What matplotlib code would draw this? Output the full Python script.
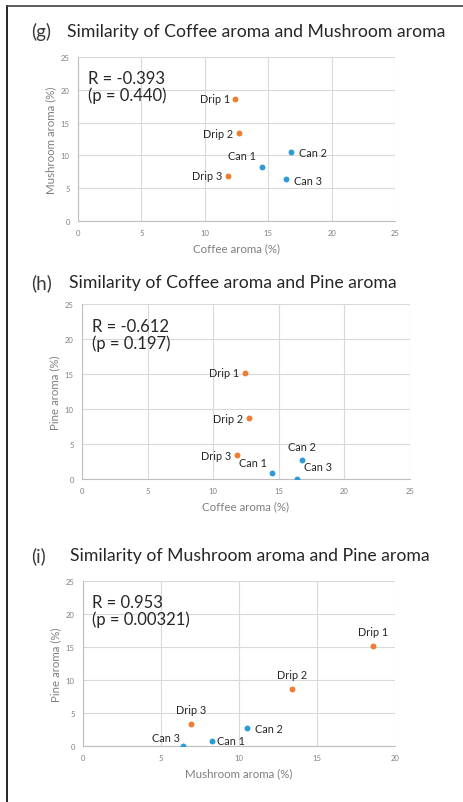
import numpy as np
import matplotlib
matplotlib.use("Agg")
import matplotlib.pyplot as plt
from matplotlib.lines import Line2D

plt.rcParams['font.family'] = ['Lato', 'DejaVu Sans']

# sample data
samples = ["Drip 1", "Drip 2", "Drip 3", "Can 1", "Can 2", "Can 3"]
coffee = [12.4, 12.7, 11.8, 14.5, 16.8, 16.4]
mushroom = [18.6, 13.4, 6.9, 8.3, 10.5, 6.4]
pine = [15.2, 8.7, 3.4, 0.8, 2.7, 0.0]
kinds = ["drip", "drip", "drip", "can", "can", "can"]

stats = ["R = -0.393\n(p = 0.440)", "R = -0.612\n(p = 0.197)", "R = 0.953\n(p = 0.00321)"]
letters = ["(g)", "(h)", "(i)"]
titles = ["Similarity of Coffee aroma and Mushroom aroma",
          "Similarity of Coffee aroma and Pine aroma",
          "Similarity of Mushroom aroma and Pine aroma"]
xlabels = ["Coffee aroma (%)", "Coffee aroma (%)", "Mushroom aroma (%)"]
ylabels = ["Mushroom aroma (%)", "Pine aroma (%)", "Pine aroma (%)"]
xmax = [25, 25, 20]

colors = {"drip": "#ED7D31", "can": "#2E9BD9"}
W, H = 463, 803

# label offsets (points) for each panel
offs = [
    [(-4, 0, "right"), (-4, 0, "right"), (-4, 0, "right"), (-4, 8, "right"), (6, 0, "left"), (6, -1, "left")],
    [(-4, 0, "right"), (-4, 0, "right"), (-4, 0, "right"), (-4, 8, "right"), (0, 10, "center"), (15, 9, "center")],
    [(0, 10, "center"), (0, 10, "center"), (0, 10, "center"), (3, 0, "left"), (6, 0, "left"), (-2, 6, "right")],
]

fig = plt.figure(figsize=(W / 100, H / 100), dpi=100)

# axes boxes in pixels: left, top, right, bottom
boxes = [(78, 58, 395, 222), (82, 305, 410, 480), (83, 582, 395, 747)]
title_y = [32, 283, 556]
title_x = [67, 69, 70]
data = [(coffee, mushroom), (coffee, pine), (mushroom, pine)]

for k in range(3):
    l, t, r, b = boxes[k]
    ax = fig.add_axes([l / W, 1 - b / H, (r - l) / W, (b - t) / H])
    xs, ys = data[k]
    for i in range(len(samples)):
        ax.scatter(xs[i], ys[i], s=18, color=colors[kinds[i]], zorder=3, linewidths=0)
        dx, dy, ha = offs[k][i]
        ax.annotate(samples[i], (xs[i], ys[i]), xytext=(dx, dy), textcoords="offset points",
                    ha=ha, va="center", fontsize=7.8, color="#262626")
    ax.set_xlim(0, xmax[k])
    ax.set_ylim(0, 25)
    ax.set_xticks(np.arange(0, xmax[k] + 1, 5))
    ax.set_yticks(np.arange(0, 26, 5))
    ax.grid(True, color="#d9d9d9", linewidth=0.8)
    ax.set_axisbelow(True)
    for s in ["top", "right"]:
        ax.spines[s].set_visible(False)
    for s in ["left", "bottom"]:
        ax.spines[s].set_color("#bfbfbf")
        ax.spines[s].set_linewidth(0.8)
    ax.tick_params(length=0, labelsize=5.5, labelcolor="#808080", pad=6)
    ax.set_xlabel(xlabels[k], fontsize=8.3, color="#7f7f7f", labelpad=4)
    ax.set_ylabel(ylabels[k], fontsize=8.3, color="#7f7f7f", labelpad=3)
    ax.text(0.03, 0.92, stats[k], transform=ax.transAxes, ha="left", va="top",
            fontsize=12, color="#262626", linespacing=1.05)

    fig.text(31 / W, 1 - title_y[k] / H, letters[k], fontsize=13.5, color="#3a3a3a", va="center")
    fig.text(title_x[k] / W, 1 - title_y[k] / H, titles[k], fontsize=12.7, color="#262626", va="center")

# frame lines at left and top of the figure
fig.add_artist(Line2D([6.5 / W, 6.5 / W], [0, 1 - 7 / H], color="black", linewidth=1.2))
fig.add_artist(Line2D([6.5 / W, 1], [1 - 7 / H, 1 - 7 / H], color="#404040", linewidth=1.2))

plt.savefig("out.png", dpi=100)
